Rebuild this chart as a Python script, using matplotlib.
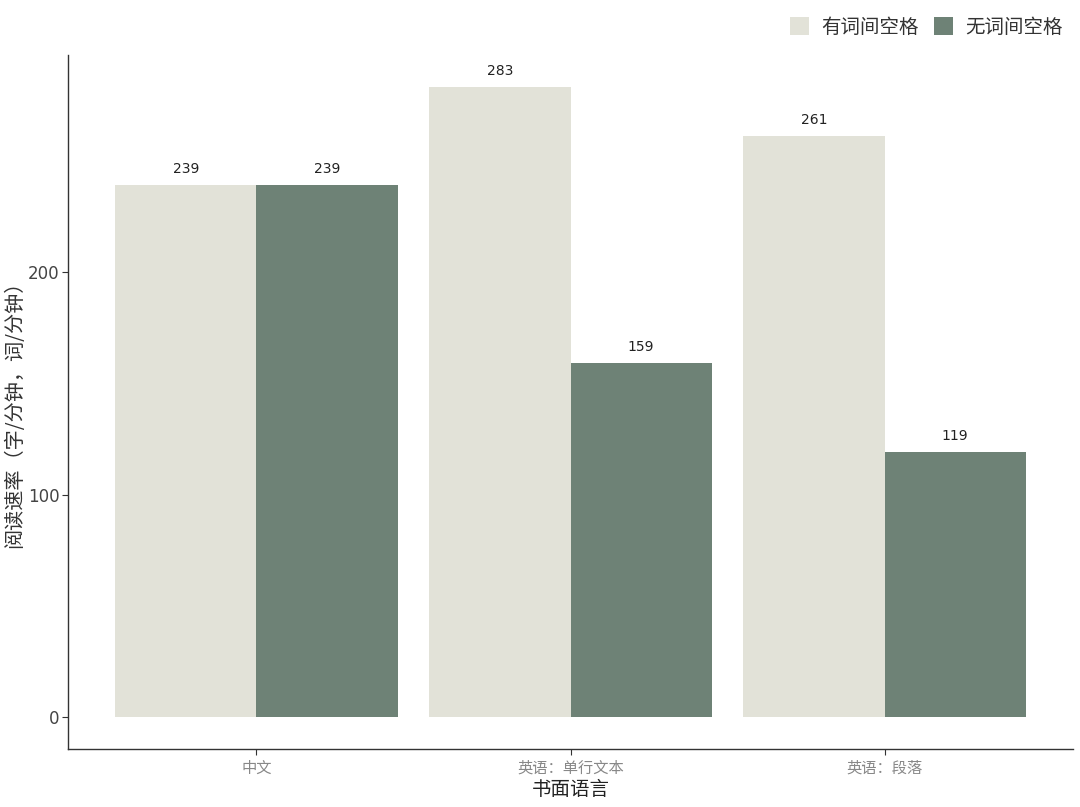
import matplotlib
matplotlib.use("Agg")
import matplotlib.pyplot as plt
import numpy as np
from matplotlib.patches import Patch

plt.rcParams['font.family'] = ['Noto Sans CJK SC', 'DejaVu Sans']

categories = ["中文", "英语：单行文本", "英语：段落"]
series_names = ["有词间空格", "无词间空格"]
with_space = [239, 283, 261]
without_space = [239, 159, 119]
colors = ["#E2E2D8", "#6E8276"]

fig = plt.figure(figsize=(10.8, 8.07), dpi=100)
ax = fig.add_axes([68/1080, 1-749/807, (1073-68)/1080, (749-55)/807])

x = np.arange(1, len(categories) + 1)
w = 0.45
b1 = ax.bar(x - w/2, with_space, width=w, color=colors[0], label=series_names[0])
b2 = ax.bar(x + w/2, without_space, width=w, color=colors[1], label=series_names[1])
for bars, vals in ((b1, with_space), (b2, without_space)):
    for r, v in zip(bars, vals):
        ax.text(r.get_x() + r.get_width()/2, v + 4, str(v), ha='center', va='bottom',
                fontsize=10, color='#222222', family=['DejaVu Sans'])

ymax = max(with_space + without_space)
ax.set_ylim(-0.05*ymax, 1.05*ymax)
ax.set_xlim(0.4, 3.6)
ax.set_xticks(x)
ax.set_xticklabels(categories, fontsize=11, color='#888888')
ax.set_yticks([0, 100, 200])
ax.set_yticklabels(['0', '100', '200'], fontsize=12, color='#444444', family=['DejaVu Sans'])
ax.tick_params(axis='y', pad=2)
ax.set_xlabel("书面语言", fontsize=14, color='#222222', labelpad=2)
ax.set_ylabel("阅读速率（字/分钟，词/分钟）", fontsize=14.5, color='#333333', va='center')
ax.yaxis.set_label_coords((15-68)/1005, 0.49)
for s in ['top', 'right']:
    ax.spines[s].set_visible(False)
for s in ['left', 'bottom']:
    ax.spines[s].set_color('#333333')
    ax.spines[s].set_linewidth(1.0)
ax.tick_params(axis='both', color='#333333', length=4)

handles = [Patch(facecolor=colors[0], edgecolor='none'), Patch(facecolor=colors[1], edgecolor='none')]
fig.legend(handles, series_names, loc='center right', bbox_to_anchor=(1.0, 1-27/807),
           ncol=2, frameon=False, fontsize=14, handlelength=1.0, handleheight=1.0,
           handletextpad=0.6, columnspacing=0.8, labelcolor='#333333')

fig.savefig("out.png", dpi=100)
